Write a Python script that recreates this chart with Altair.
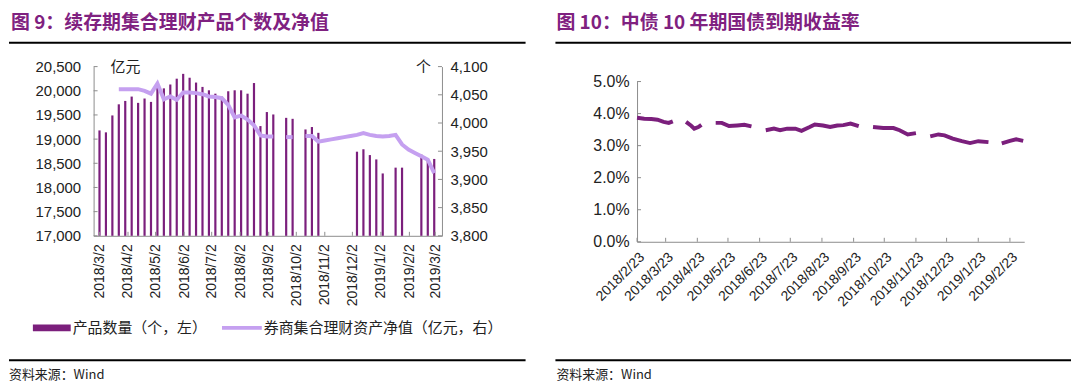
import altair as alt
import pandas as pd

# ---------------- data: left chart (weekly) ----------------
week_dates = [
    "2018/03/02", "2018/03/09", "2018/03/16", "2018/03/23", "2018/03/30",
    "2018/04/06", "2018/04/13", "2018/04/20", "2018/04/27",
    "2018/05/04", "2018/05/11", "2018/05/18", "2018/05/25",
    "2018/06/01", "2018/06/08", "2018/06/15", "2018/06/22", "2018/06/29",
    "2018/07/06", "2018/07/13", "2018/07/20", "2018/07/27",
    "2018/08/03", "2018/08/10", "2018/08/17", "2018/08/24", "2018/08/31",
    "2018/09/07", "2018/09/14", "2018/09/21", "2018/09/28",
    "2018/10/05", "2018/10/12", "2018/10/19", "2018/10/26",
    "2018/11/02", "2018/11/09", "2018/11/16", "2018/11/23", "2018/11/30",
    "2018/12/07", "2018/12/14", "2018/12/21", "2018/12/28",
    "2019/01/04", "2019/01/11", "2019/01/18", "2019/01/25",
    "2019/02/01", "2019/02/08", "2019/02/15", "2019/02/22", "2019/03/01",
]
product_count = [
    19180, 19140, 19490, 19720, 19790,
    19880, 19750, 19840, 19770,
    20060, 20050, 20130, 20250,
    20350, 20270, 20170, 20080, 20010,
    19940, 19880, 19990, 20010,
    20010, 19940, 20160, 19270, 19560,
    19510, None, 19440, 19420,
    None, 19200, 19250, 19130,
    None, None, None, None, None,
    18740, 18790, 18670, 18580,
    18290, None, 18410, 18410,
    None, None, 18680, 18610, 18590,
]
net_value = [
    None, None, None, 4060, 4060,
    4060, 4060, 4057, 4052,
    4070, 4042, 4047, 4041,
    4054, 4054, 4053, 4051, 4047,
    4046, 4044, 4032, 4010,
    4013, 4006, 3996, 3978, 3976,
    3976, None, 3975, 3975,
    None, 3977, 3977, 3967,
    3969, 3971, 3973, 3975, 3977,
    3979, 3982, 3979, 3977,
    3976, 3977, 3979, 3962,
    3953, 3947, 3941, 3935, 3911,
]
left_ticks = [17000, 17500, 18000, 18500, 19000, 19500, 20000, 20500]
right_ticks = [3800, 3850, 3900, 3950, 4000, 4050, 4100]
left_month_ticks = ["2018/03/02", "2018/04/02", "2018/05/02", "2018/06/02", "2018/07/02",
                    "2018/08/02", "2018/09/02", "2018/10/02", "2018/11/02", "2018/12/02",
                    "2019/01/02", "2019/02/02", "2019/03/02"]

# ---------------- data: right chart (10y yield) ----------------
rate_dates = [
    "2018/02/23", "2018/03/02", "2018/03/09", "2018/03/15", "2018/03/21", "2018/03/26", "2018/03/30",
    "2018/04/12", "2018/04/17", "2018/04/20", "2018/04/24", "2018/04/27",
    "2018/05/11", "2018/05/17", "2018/05/24", "2018/06/01", "2018/06/08", "2018/06/15",
    "2018/06/29", "2018/07/07", "2018/07/13", "2018/07/20", "2018/07/28", "2018/08/03",
    "2018/08/11", "2018/08/16", "2018/08/24", "2018/08/31", "2018/09/07", "2018/09/13",
    "2018/09/20", "2018/09/28",
    "2018/10/12", "2018/10/22", "2018/11/01", "2018/11/07", "2018/11/15", "2018/11/23",
    "2018/12/07", "2018/12/15", "2018/12/21", "2018/12/29", "2019/01/07", "2019/01/15",
    "2019/01/23", "2019/02/02",
    "2019/02/15", "2019/02/23", "2019/03/01", "2019/03/08",
]
rate_values = [
    3.87, 3.84, 3.83, 3.81, 3.74, 3.71, 3.76,
    3.74, 3.62, 3.53, 3.58, 3.65,
    3.71, 3.71, 3.61, 3.63, 3.65, 3.60,
    3.48, 3.53, 3.48, 3.53, 3.53, 3.46,
    3.58, 3.66, 3.63, 3.58, 3.63, 3.64,
    3.69, 3.61,
    3.58, 3.55, 3.55, 3.48, 3.35, 3.39,
    3.29, 3.35, 3.32, 3.22, 3.14, 3.08,
    3.14, 3.11,
    3.07, 3.15, 3.20, 3.15,
]
rate_segment = [1] * 7 + [2] * 5 + [3] * 6 + [4] * 14 + [5] * 6 + [6] * 8 + [7] * 4
rate_ticks = [0.0, 0.01, 0.02, 0.03, 0.04, 0.05]
right_month_ticks = ["2018/02/23", "2018/03/23", "2018/04/23", "2018/05/23", "2018/06/23",
                     "2018/07/23", "2018/08/23", "2018/09/23", "2018/10/23", "2018/11/23",
                     "2018/12/23", "2019/01/23", "2019/02/23"]

# ---------------- styles ----------------
BAR = "#7B1F7C"
LIGHT = "#C5A0F0"
DARK = "#7B1F7C"
TITLE = "#7F2180"
AX = "#8c8c8c"
CJK = "Noto Sans CJK SC"
LAT = "Liberation Sans"

# ---------------- build tables ----------------
df_bar = pd.DataFrame({"date": week_dates, "count": product_count}).dropna()
s, rows = 0, []
prev_none = True
for d, v in zip(week_dates, net_value):
    if v is None:
        prev_none = True
        continue
    if prev_none:
        s += 1
        prev_none = False
    rows.append({"date": d, "nav": v, "seg": s})
df_nav = pd.DataFrame(rows)
df_rate = pd.DataFrame({"date": rate_dates, "rate": [v / 100 for v in rate_values], "seg": rate_segment})

one = pd.DataFrame({"a": [0]})


def dt(s):
    y, m, d = (int(p) for p in s.split("/"))
    return alt.DateTime(year=y, month=m, date=d)


def txt(x, y, s, size=15, color="#222", weight="normal", font=CJK, align="left"):
    return alt.Chart(one).mark_text(
        align=align, baseline="middle", fontSize=size, color=color, fontWeight=weight, font=font
    ).encode(x=alt.value(x), y=alt.value(y), text=alt.value(s))


def hrule(x1, x2, y, w=2, color="black"):
    return alt.Chart(one).mark_rule(color=color, strokeWidth=w).encode(
        x=alt.value(x1), x2=alt.value(x2), y=alt.value(y)
    )


def axis(**kw):
    base = dict(labelFont=LAT, labelFontSize=14, labelColor="#222", domainColor=AX,
                ticks=False, grid=False, title=None, labelOverlap=False)
    base.update(kw)
    return alt.Axis(**base)


# ---------------- left panel ----------------
LX_SCALE = alt.Scale(domain=[dt("2018/03/01"), dt("2019/03/04")])
LX_AXIS = axis(values=[dt(t) for t in left_month_ticks], format="%Y/%-m/%-d",
               labelAngle=270, labelPadding=8)
LY_SCALE = alt.Scale(domain=[17000, 20500], zero=False, nice=False)
RY_SCALE = alt.Scale(domain=[3800, 4100], zero=False, nice=False)

bars = alt.Chart(df_bar).mark_bar(size=2.2, color=BAR).encode(
    x=alt.X("date:T", scale=LX_SCALE, axis=LX_AXIS),
    y=alt.Y("count:Q", scale=LY_SCALE,
            axis=axis(values=left_ticks, format=",d", labelPadding=13, labelFontSize=15)),
    y2=alt.datum(17000),
)
navline = alt.Chart(df_nav).mark_line(color=LIGHT, strokeWidth=4).encode(
    x=alt.X("date:T", scale=LX_SCALE, axis=LX_AXIS),
    y=alt.Y("nav:Q", scale=RY_SCALE,
            axis=axis(values=right_ticks, format=",d", orient="right", labelPadding=8,
                      labelFontSize=15)),
    detail="seg:N",
)

# inward tick marks
lt = alt.Chart(pd.DataFrame({"v": left_ticks})).mark_rule(color=AX).encode(
    y=alt.Y("v:Q", scale=LY_SCALE, axis=None), x=alt.value(0), x2=alt.value(4))
rt = alt.Chart(pd.DataFrame({"v": right_ticks})).mark_rule(color=AX).encode(
    y=alt.Y("v:Q", scale=RY_SCALE, axis=None), x=alt.value(346), x2=alt.value(350))
xt = alt.Chart(pd.DataFrame({"date": left_month_ticks})).mark_rule(color=AX).encode(
    x=alt.X("date:T", scale=LX_SCALE, axis=LX_AXIS), y=alt.value(166), y2=alt.value(170))

anchor = alt.Chart(one).mark_rect(opacity=0).encode(
    x=alt.value(-85), x2=alt.value(-84), y=alt.value(-58), y2=alt.value(-57)
)

left_deco = [
    anchor,
    txt(-83, -44, "图 9：续存期集合理财产品个数及净值", size=19, color=TITLE, weight="bold"),
    hrule(-85, 434, -24),
    txt(17, 0, "亿元", size=15),
    txt(324, 0, "个", size=15),
    alt.Chart(one).mark_rect(color=BAR).encode(
        x=alt.value(-61), x2=alt.value(-23), y=alt.value(259), y2=alt.value(266)),
    txt(-21, 262.5, "产品数量（个，左）", size=15),
    alt.Chart(one).mark_rule(color=LIGHT, strokeWidth=4).encode(
        x=alt.value(129), x2=alt.value(169), y=alt.value(262.5)),
    txt(171, 262.5, "券商集合理财资产净值（亿元，右）", size=15),
    hrule(-85, 434, 295),
    txt(-85, 310, "资料来源：Wind", size=13),
]

left = alt.layer(bars, navline, lt, rt, xt, *left_deco).resolve_scale(y="independent").properties(
    width=350, height=170
)

# ---------------- right panel ----------------
RX_SCALE = alt.Scale(domain=[dt("2018/02/23"), dt("2019/03/09")])
RX_AXIS = axis(values=[dt(t) for t in right_month_ticks], format="%Y/%-m/%-d",
               labelAngle=315, labelPadding=8)
RATE_SCALE = alt.Scale(domain=[0, 0.05], range=[176, 15], nice=False)
RATE_AXIS = axis(values=rate_ticks, format=".1%", labelPadding=8, labelFontSize=16)

rate_line = alt.Chart(df_rate).mark_line(color=DARK, strokeWidth=4).encode(
    x=alt.X("date:T", scale=RX_SCALE, axis=RX_AXIS),
    y=alt.Y("rate:Q", scale=RATE_SCALE, axis=RATE_AXIS),
    detail="seg:N",
)
ryt = alt.Chart(pd.DataFrame({"rate": rate_ticks})).mark_rule(color=AX).encode(
    y=alt.Y("rate:Q", scale=RATE_SCALE, axis=RATE_AXIS), x=alt.value(0), x2=alt.value(4))
rxt = alt.Chart(pd.DataFrame({"date": right_month_ticks})).mark_rule(color=AX).encode(
    x=alt.X("date:T", scale=RX_SCALE, axis=RX_AXIS), y=alt.value(172), y2=alt.value(176))

right_deco = [
    txt(-81, -44, "图 10：中债 10 年期国债到期收益率", size=19, color=TITLE, weight="bold"),
    hrule(-82, 436, -24),
    hrule(-82, 436, 295),
    txt(-81, 310, "资料来源：Wind", size=13),
]

right = alt.layer(rate_line, ryt, rxt, *right_deco).properties(width=389, height=176)

chart = alt.hconcat(left, right, spacing=196, bounds="flush").properties(
    padding=0
).configure_view(stroke=None)

chart.save("out.html", embed_options={"renderer": "svg", "actions": False})
